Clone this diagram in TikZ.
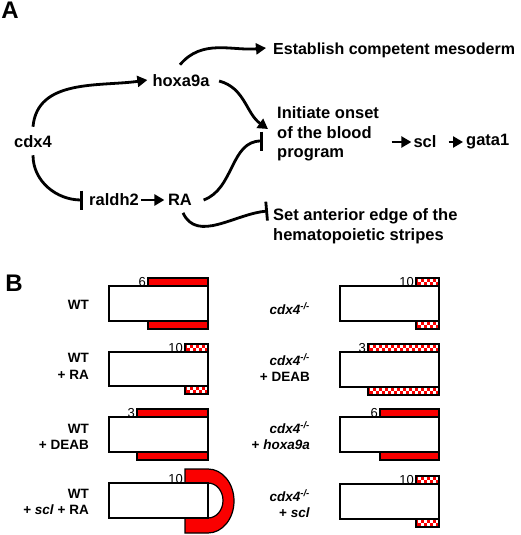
\documentclass[tikz,border=0pt]{standalone}
\usepackage{fontspec}
\setmainfont{Liberation Sans}
\usetikzlibrary{arrows.meta}
\definecolor{bred}{RGB}{250,0,0}
\newcommand{\chkbar}[3]{%
  \fill[bred] (#1,#3) rectangle (#2,#3+8);
  \begin{scope}
    \clip (#1,#3) rectangle (#2,#3+8);
    \foreach \k in {0,...,14}{
      \fill[white] ({#1+1.5+6*\k},{#3+1.2}) rectangle ++(3,2.9);
      \fill[white] ({#1+4.5+6*\k},{#3+4.1}) rectangle ++(3,2.9);
    }
  \end{scope}
  \draw[black,line width=1.2pt] (#1,#3) rectangle (#2,#3+8);
}
\begin{document}
\begin{tikzpicture}[x=1pt,y=-1pt,
  ta/.style={font=\fontsize{16.5}{19.5}\selectfont\bfseries, inner sep=0},
  tb/.style={font=\fontsize{13.5}{16.5}\selectfont\bfseries, inner sep=0, align=right, anchor=east},
  num/.style={font=\fontsize{13}{15}\selectfont, inner sep=0, anchor=base east},
  panel/.style={font=\fontsize{24}{24}\selectfont\bfseries, inner sep=0},
  act/.style={line width=2.8pt, -{Triangle[length=10pt,width=11pt]}},
  inh/.style={line width=2.8pt, -{Bar[width=19pt]}},
  boxl/.style={draw=black, line width=1.3pt, fill=white},
  sbar/.style={draw=black, line width=1.2pt, fill=bred}]
\useasboundingbox (0,0) rectangle (520,535);
\fill[white] (0,0) rectangle (520,535);

% ---------- Panel A ----------
\node[panel] (labA) at (10,10) {A};
\node[ta] (cdx4) at (33,142) {cdx4};
\node[ta] (hox) at (181,81) {hoxa9a};
\node[ta] (raldh) at (114,200) {raldh2};
\node[ta] (ra) at (180,200) {RA};
\node[ta, anchor=west, font=\fontsize{16}{19.5}\selectfont\bfseries] (est) at (273,50) {Establish competent mesoderm};
\node[ta, anchor=west, align=left] (init) at (277,134) {Initiate onset\\of the blood\\program};
\node[ta] (scl) at (425,142) {scl};
\node[ta, anchor=west] (gata) at (466,142) {gata1};
\node[ta, anchor=west, align=left] (set) at (273,226) {Set anterior edge of the\\hematopoietic stripes};

\draw[act] ([yshift=9pt]cdx4.north) to[out=85,in=188] ([xshift=-5pt,yshift=1pt]hox.west);
\draw[inh] ([yshift=-7pt]cdx4.south) to[out=-90,in=180] ([xshift=-6pt]raldh.west);
\draw[act] ([xshift=-1pt,yshift=10pt]hox.north) to[out=50,in=185] ([xshift=-7pt,yshift=2pt]est.west);
\draw[act] ([xshift=9.5pt]hox.east) to[out=-15,in=145] ([xshift=-9pt,yshift=5pt]init.west);
\draw[inh] ([xshift=11.5pt]ra.east) to[out=20,in=180] ([xshift=-14pt,yshift=-7pt]init.west);
\draw[inh] ([xshift=3pt,yshift=-7pt]ra.south) to[out=-65,in=185] ([xshift=-5pt,yshift=15pt]set.west);
\draw[act] ([xshift=2pt]raldh.east) -- ([xshift=-3.5pt]ra.west);
\draw[act] ([xshift=12.5pt,yshift=-8pt]init.east) -- ([xshift=-2pt]scl.west);
\draw[act] ([xshift=12pt]scl.east) -- ([xshift=-3pt]gata.west);

% ---------- Panel B ----------
\node[panel] (labB) at (14,283) {B};

% left column
\node[tb] (l1) at (89,305) {WT};
\draw[sbar] (148,278) rectangle (208,286);
\draw[sbar] (148,321) rectangle (208,329);
\draw[boxl] (109,286) rectangle (208,321);
\node[num] (n1) at (146,286) {6};

\node[tb] (l2) at (89,366.5) {WT\\+ RA};
\chkbar{185}{208}{344}
\chkbar{185}{208}{386}
\draw[boxl] (109,352) rectangle (208,386);
\node[num] (n2) at (183,352) {10};

\node[tb] (l3) at (89,437) {WT\\+ DEAB};
\draw[sbar] (137,409) rectangle (208,417);
\draw[sbar] (137,452) rectangle (208,460);
\draw[boxl] (109,417) rectangle (208,452);
\node[num] (n3) at (135,417) {3};

\node[tb] (l4) at (89,502) {WT\\+ \textit{scl} + RA};
\draw[sbar, even odd rule]
  (185,469) -- (208,469) .. controls (222.4,469) and (234,483.3) .. (234,501)
  .. controls (234,518.7) and (222.4,533) .. (208,533) -- (185,533) -- cycle
  (208,483) .. controls (216.3,483) and (223,490.8) .. (223,500.5)
  .. controls (223,510.2) and (216.3,518) .. (208,518) -- cycle;
\draw[boxl] (109,483) rectangle (208,518);
\node[num] (n4) at (183,483) {10};

% right column
\node[tb] (r1) at (310,309) {\textit{cdx4}\textsuperscript{\textit{-/-}}};
\chkbar{416}{439}{278}
\chkbar{416}{439}{321}
\draw[boxl] (340,286) rectangle (439,321);
\node[num] (m1) at (414,286) {10};

\node[tb] (r2) at (310,367.5) {\textit{cdx4}\textsuperscript{\textit{-/-}}\\+ DEAB};
\chkbar{368}{439}{344}
\chkbar{368}{439}{387}
\draw[boxl] (340,352) rectangle (439,387);
\node[num] (m2) at (366,352) {3};

\node[tb] (r3) at (310,435.5) {\textit{cdx4}\textsuperscript{\textit{-/-}}\\+ \textit{hoxa9a}};
\draw[sbar] (380,409) rectangle (439,417);
\draw[sbar] (380,452) rectangle (439,460);
\draw[boxl] (340,417) rectangle (439,452);
\node[num] (m3) at (378,417) {6};

\node[tb] (r4) at (310,503.5) {\textit{cdx4}\textsuperscript{\textit{-/-}}\\+ \textit{scl}};
\chkbar{416}{439}{476}
\chkbar{416}{439}{519}
\draw[boxl] (340,484) rectangle (439,519);
\node[num] (m4) at (414,484) {10};
\end{tikzpicture}
\end{document}
